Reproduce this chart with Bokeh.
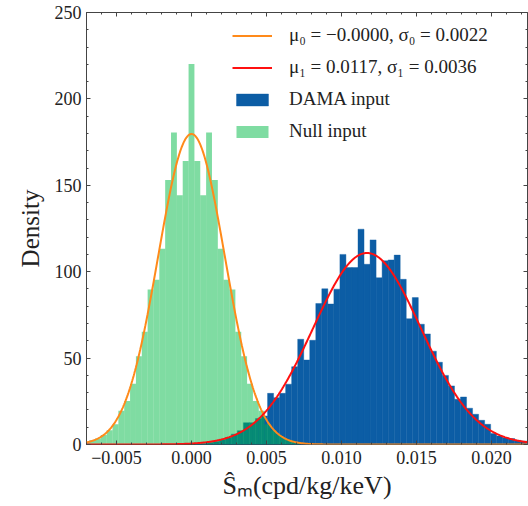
import numpy as np
from bokeh.plotting import figure
from bokeh.models import (Range1d, LinearAxis, SingleIntervalTicker,
                          CustomJSTickFormatter, Legend, LegendItem,
                          CustomLabelingPolicy)
from bokeh.embed import file_html
from bokeh.resources import INLINE

# ---------------- data ----------------
# Null input histogram (density), equal bins
null_bin_start = -0.007215
null_bin_width = 0.00039
null_density = [1.5, 2.5, 3.5, 5.5, 8.2, 11.7, 19.6, 25.2, 35.1, 51.0, 65.2, 89.7,
                95.4, 113.3, 153.0, 180.5, 144.2, 164.1, 220.2, 164.1, 144.2, 180.5,
                153.0, 113.3, 95.4, 89.7, 65.2, 51.0, 35.1, 25.2, 19.6, 11.7, 8.2,
                5.5, 3.5, 2.5, 1.5]

# DAMA input histogram (density), equal bins
dama_bin_start = 0.000246
dama_bin_width = 0.000402
dama_density = [0.3, 0.6, 1.2, 1.8, 2.8, 4.0, 6.0, 8.0, 12.6, 12.6, 15.0, 16.5,
                29.6, 27.1, 29.6, 34.9, 45.0, 60.9, 48.9, 60.3, 81.6, 90.1,
                81.3, 89.9, 110.0, 102.4, 102.4, 124.6, 104.3, 118.4, 96.5, 106.3,
                106.8, 109.6, 95.6, 72.8, 85.0, 69.6, 64.0, 54.0, 47.6, 40.0,
                33.9, 26.2, 27.5, 21.0, 17.5, 14.0, 11.7, 6.3, 4.9, 3.9, 3.4,
                2.4, 2.0, 1.0]

# Gaussian fit parameters
mu0, sigma0 = -0.0000, 0.00222
mu1, sigma1 = 0.0117, 0.0036

labels = ["\u03bc\u2080 = \u22120.0000, \u03c3\u2080 = 0.0022",
          "\u03bc\u2081 = 0.0117, \u03c3\u2081 = 0.0036",
          "DAMA input", "Null input"]
x_label = "\u015c\u2098(cpd/kg/keV)"
y_label = "Density"

x_min, x_max = -0.007, 0.0224
y_min, y_max = 0, 250

C_BLUE = "#0C5DA5"
C_GREEN = "#00B945"
C_ORANGE = "#FF8A1A"
C_RED = "#FF1010"
FONT = "Liberation Serif"
TXT = "#222222"

# ---------------- figure ----------------
p = figure(width=528, height=506, output_backend="svg", toolbar_location=None,
           x_range=Range1d(x_min, x_max), y_range=Range1d(y_min, y_max),
           min_border_left=86, min_border_right=1, min_border_top=12,
           min_border_bottom=62, x_axis_location=None, y_axis_location=None)
p.background_fill_color = "white"
p.border_fill_color = "white"
p.grid.visible = False
p.outline_line_color = "#444444"
p.outline_line_width = 1

def edges(start, width, n):
    e = start + width * np.arange(n + 1)
    return e[:-1], e[1:]

dl, dr = edges(dama_bin_start, dama_bin_width, len(dama_density))
nl, nr = edges(null_bin_start, null_bin_width, len(null_density))

r_dama = p.quad(left=dl, right=dr, bottom=0, top=dama_density,
                fill_color=C_BLUE, fill_alpha=1.0, line_color=C_BLUE, line_width=0.4)
r_null = p.quad(left=nl, right=nr, bottom=0, top=null_density,
                fill_color=C_GREEN, fill_alpha=0.5, line_color=None)

xs = np.linspace(x_min, x_max, 600)
g0 = np.exp(-0.5 * ((xs - mu0) / sigma0) ** 2) / (sigma0 * np.sqrt(2 * np.pi))
g1 = np.exp(-0.5 * ((xs - mu1) / sigma1) ** 2) / (sigma1 * np.sqrt(2 * np.pi))
r_fit0 = p.line(xs, g0, line_color=C_ORANGE, line_width=2)
r_fit1 = p.line(xs, g1, line_color=C_RED, line_width=2)

# ---------------- axes ----------------
xfmt = CustomJSTickFormatter(code="""
const v = Math.abs(tick) < 1e-12 ? 0 : tick;
return (v < 0 ? '\\u2212' : '') + Math.abs(v).toFixed(3);
""")

def style(ax, labels_on):
    ax.axis_line_color = None
    ax.major_tick_in = 4
    ax.major_tick_out = 0
    ax.minor_tick_in = 2
    ax.minor_tick_out = 0
    ax.major_tick_line_color = "#444444"
    ax.minor_tick_line_color = "#444444"
    if labels_on:
        ax.major_label_text_font = FONT
        ax.major_label_text_font_size = "18px"
        ax.major_label_text_color = TXT
        ax.axis_label_text_font = FONT
        ax.axis_label_text_font_size = "26px"
        ax.axis_label_text_font_style = "normal"
        ax.axis_label_text_color = TXT
    else:
        # tick marks only: no labels are drawn and no room is reserved
        ax.major_label_policy = CustomLabelingPolicy(code="""
for (const i of indices) indices.unset(i);
return indices;
""")
        ax.major_label_text_font_size = "0px"
        ax.major_label_standoff = 0
        ax.axis_label_standoff = 0

xb = LinearAxis(ticker=SingleIntervalTicker(interval=0.005, num_minor_ticks=5),
                formatter=xfmt, axis_label=x_label)
style(xb, True)
xb.major_label_standoff = 6
xb.axis_label_standoff = 4
p.add_layout(xb, "below")

xt = LinearAxis(ticker=SingleIntervalTicker(interval=0.005, num_minor_ticks=5),
                formatter=xfmt)
style(xt, False)
p.add_layout(xt, "above")

yl = LinearAxis(ticker=SingleIntervalTicker(interval=50, num_minor_ticks=5),
                axis_label=y_label)
style(yl, True)
yl.axis_label_text_font_size = "25px"
yl.major_label_standoff = 5
yl.axis_label_standoff = 8
p.add_layout(yl, "left")

yr = LinearAxis(ticker=SingleIntervalTicker(interval=50, num_minor_ticks=5))
style(yr, False)
p.add_layout(yr, "right")

# ---------------- legend ----------------
legend = Legend(items=[LegendItem(label=labels[0], renderers=[r_fit0]),
                       LegendItem(label=labels[1], renderers=[r_fit1]),
                       LegendItem(label=labels[2], renderers=[r_dama]),
                       LegendItem(label=labels[3], renderers=[r_null])],
                location=(146, 302))
legend.border_line_color = None
legend.background_fill_alpha = 0
legend.padding = 0
legend.margin = 0
legend.spacing = 10
legend.glyph_width = 40
legend.glyph_height = 15
legend.label_height = 20
legend.label_standoff = 17
legend.label_text_font = FONT
legend.label_text_font_size = "19px"
legend.label_text_color = TXT
p.add_layout(legend, "center")

open("out.html", "w").write(file_html(p, INLINE))
